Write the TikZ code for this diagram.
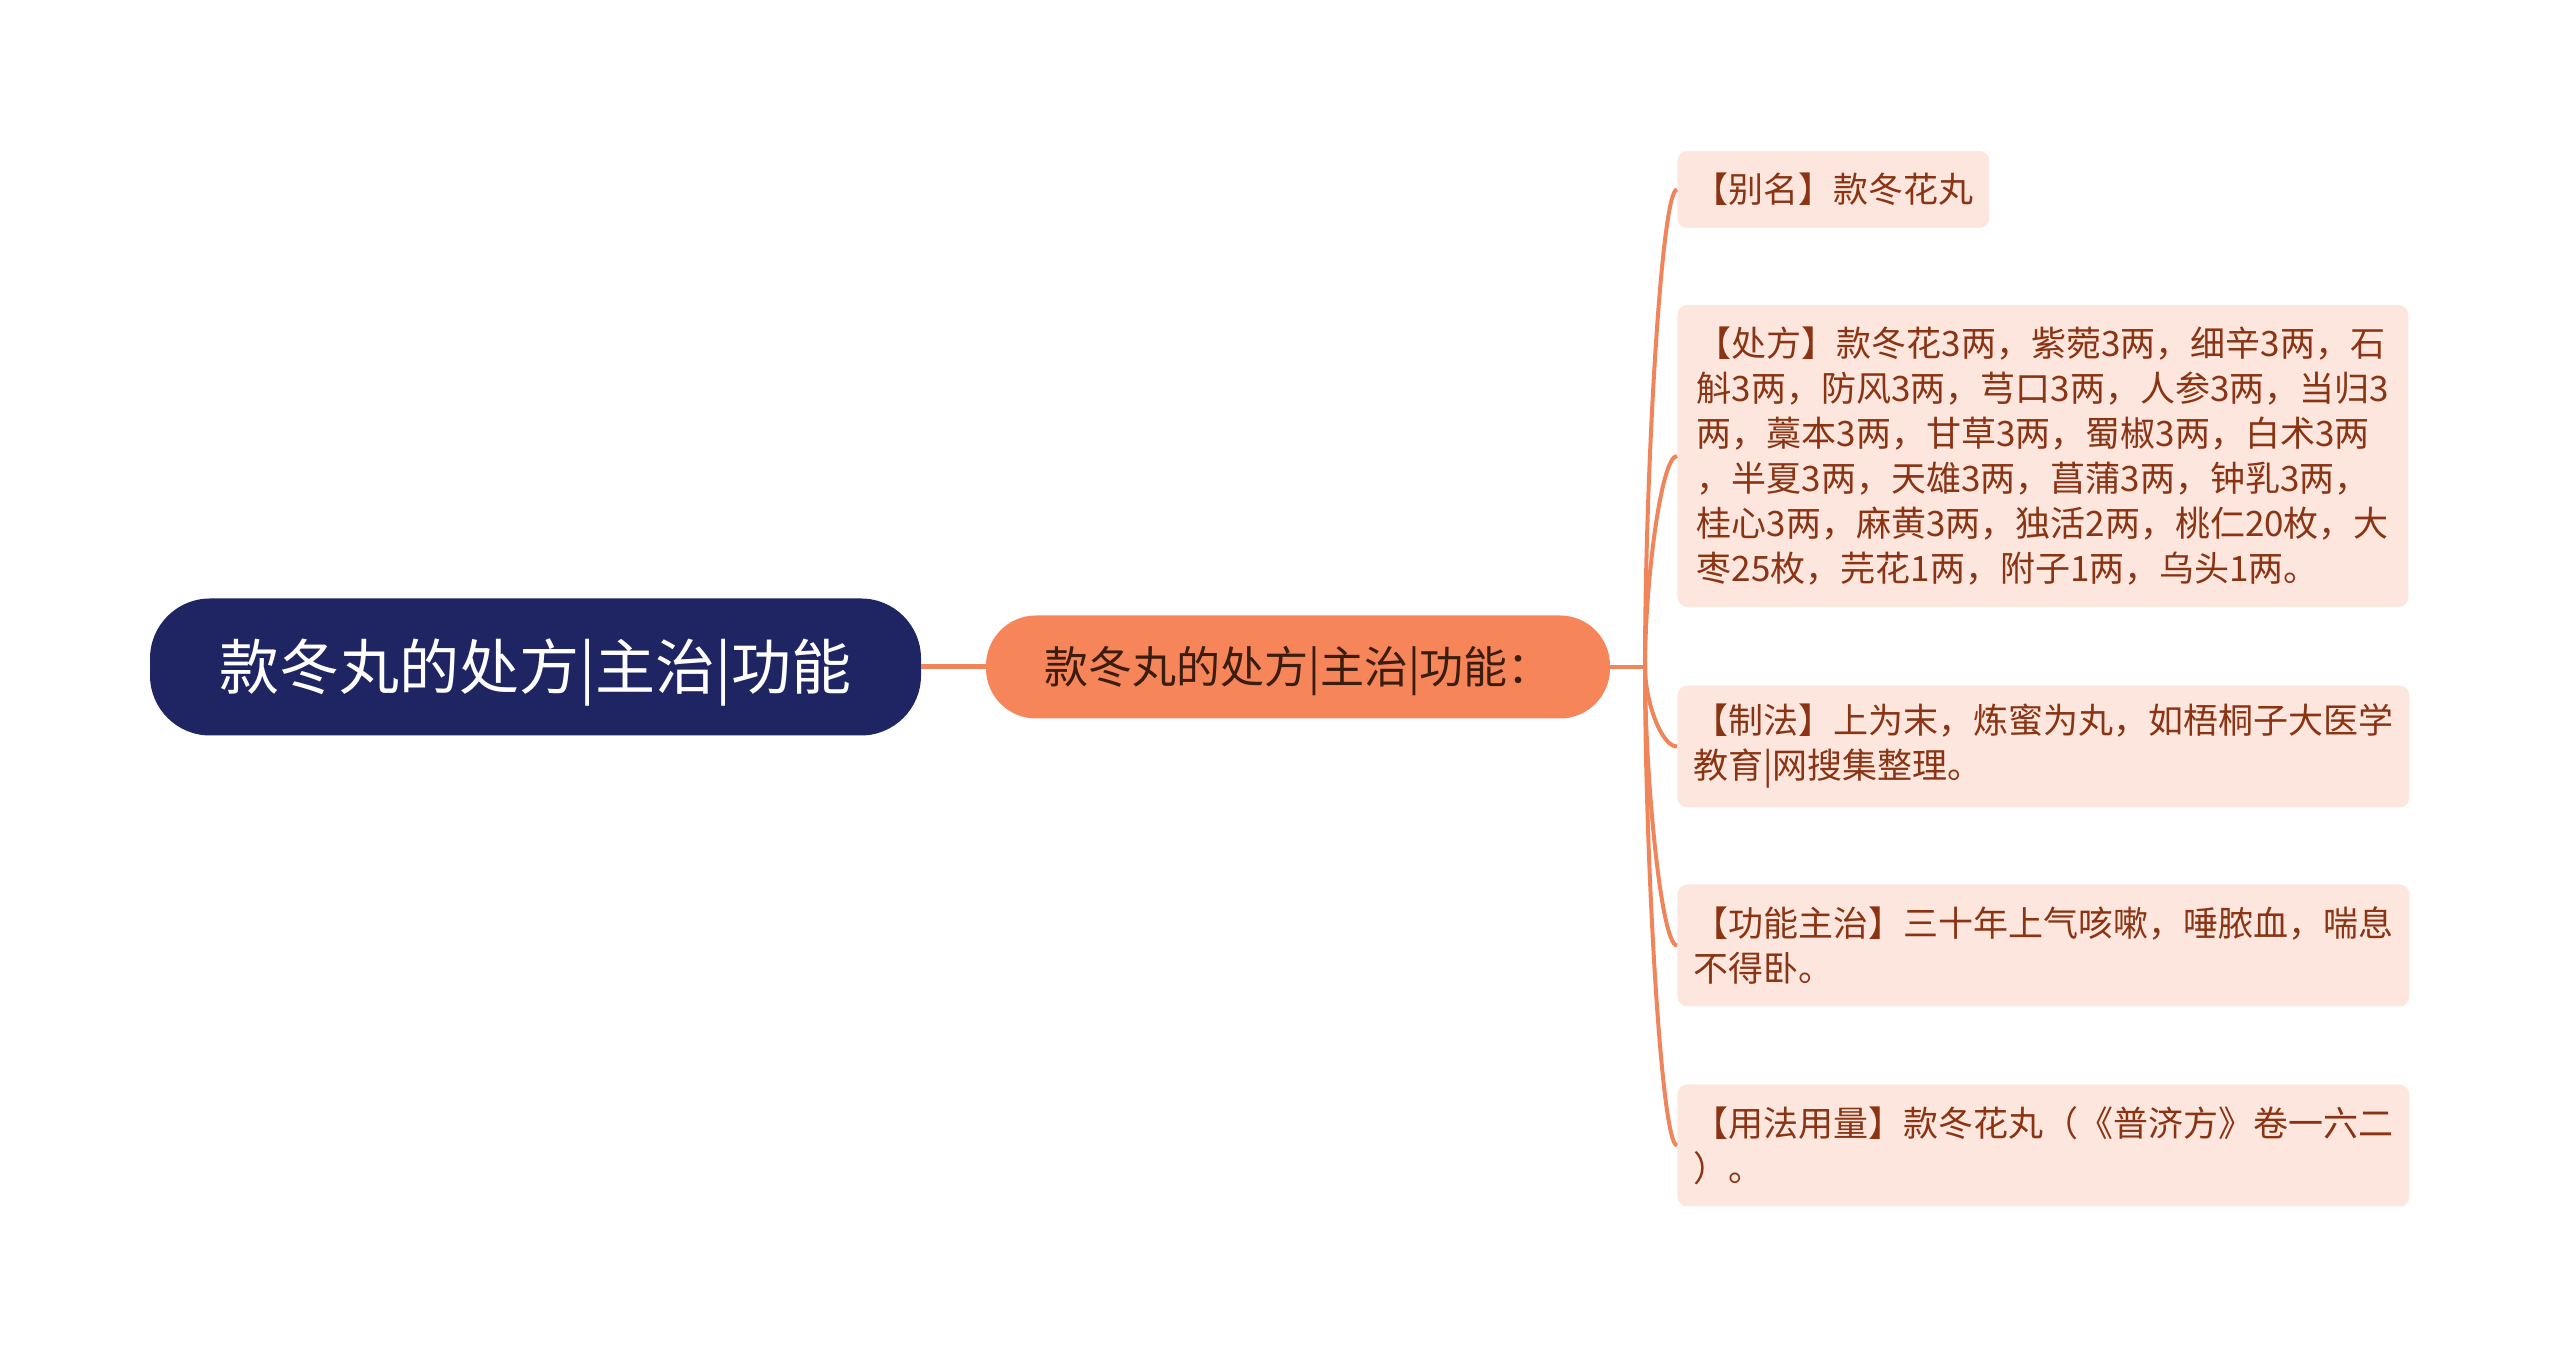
\documentclass[tikz,border=0pt]{standalone}
\usepackage{fontspec}
\newfontfamily\cjk{Noto Sans CJK SC}
\definecolor{rootblue}{HTML}{1F2563}
\definecolor{topicorange}{HTML}{F7855A}
\definecolor{leafpink}{HTML}{FDE6DD}
\definecolor{leaftext}{HTML}{8A3414}
\definecolor{topictext}{HTML}{3B1D10}
\definecolor{linkorange}{HTML}{F0855C}

\begin{document}
\begin{tikzpicture}[x=0.5pt,y=0.5pt,
  every node/.style={font=\cjk},
  rootbox/.style={fill=rootblue,text=white,rounded corners=30pt,
    minimum width=385.5pt,minimum height=68.5pt,text height=26.4pt,text depth=3.6pt,
    font=\cjk\fontsize{30pt}{36pt}\selectfont},
  topicbox/.style={fill=topicorange,text=topictext,rounded corners=25pt,
    minimum width=312pt,minimum height=51.5pt,text height=19.4pt,text depth=2.6pt,
    font=\cjk\fontsize{22pt}{26pt}\selectfont},
  leafbox/.style={fill=leafpink,text=leaftext,rounded corners=5pt,anchor=west,
    align=left,inner xsep=8pt,minimum width=365.5pt,
    font=\cjk\fontsize{17.5pt}{22.5pt}\selectfont},
  link/.style={draw=linkorange,line width=2pt},
  uplink/.style={link,out=90,in=180,out looseness=1,in distance=8pt},
  downlink/.style={link,out=-90,in=180,out looseness=1,in distance=8pt}]
  \useasboundingbox (0,0) rectangle (2560,1359);

  % Root and main topic
  \node[rootbox] (root) at (535.5,692) {款冬丸的处方|主治|功能};
  \node[topicbox] (topic) at (1298,692) {款冬丸的处方|主治|功能：};
  \coordinate (fork) at (1645,692);

  % Leaves on the right
  \node[leafbox,minimum width=156pt,minimum height=38.5pt] (alias) at (1677,1169.5)
    {【别名】款冬花丸};
  \node[leafbox,minimum height=151pt] (recipe) at (1677,903)
    {【处方】款冬花3两，紫菀3两，细辛3两，石\\
     斛3两，防风3两，芎口3两，人参3两，当归3\\
     两，藁本3两，甘草3两，蜀椒3两，白术3两\\
     ，半夏3两，天雄3两，菖蒲3两，钟乳3两，\\
     桂心3两，麻黄3两，独活2两，桃仁20枚，大\\
     枣25枚，芫花1两，附子1两，乌头1两。};
  \node[leafbox,minimum height=61pt] (method) at (1677,612.5)
    {【制法】上为末，炼蜜为丸，如梧桐子大医学\\
     教育|网搜集整理。};
  \node[leafbox,minimum height=61pt] (effect) at (1677,413.5)
    {【功能主治】三十年上气咳嗽，唾脓血，喘息\\
     不得卧。};
  \node[leafbox,minimum height=61pt] (usage) at (1677,213.5)
    {【用法用量】款冬花丸（《普济方》卷一六二\\
     ）。};

  % Connectors
  \draw[link,line width=2.5pt] (root) -- (topic);
  \draw[link] (topic.east) -- (fork);
  \draw[uplink] (fork) to (alias.west);
  \draw[uplink] (fork) to (recipe.west);
  \draw[downlink] (fork) to (method.west);
  \draw[downlink] (fork) to (effect.west);
  \draw[downlink] (fork) to (usage.west);
\end{tikzpicture}
\end{document}
